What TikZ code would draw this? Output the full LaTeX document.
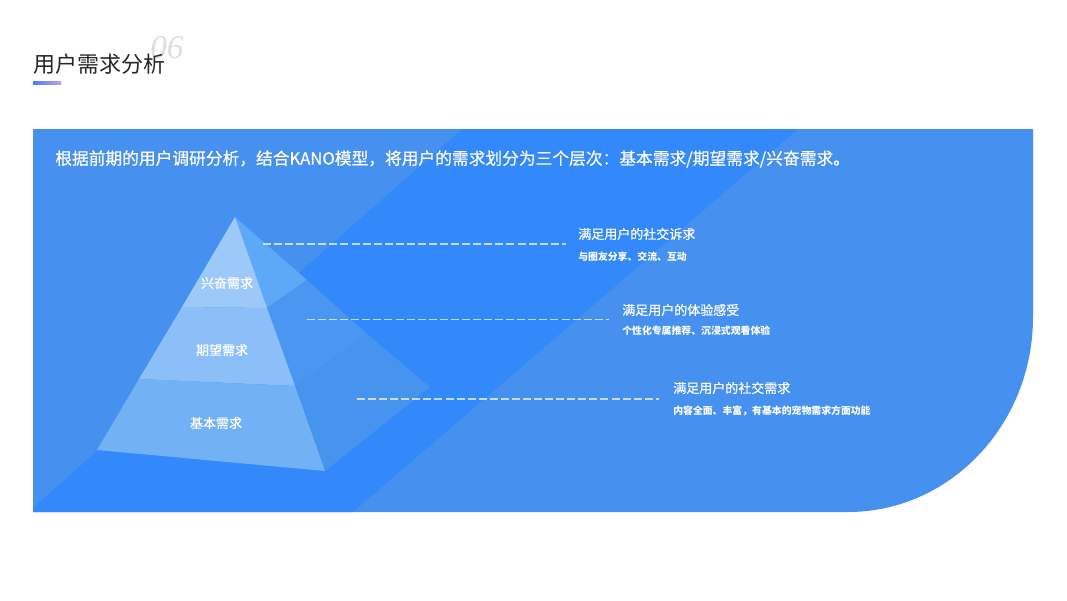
\documentclass[tikz,border=0pt]{standalone}
\usepackage{fontspec}
\setmainfont{Noto Sans CJK SC}
\newfontfamily\cjkf{Noto Sans CJK SC}
\newfontfamily\cjkm[FakeBold=0.4]{Noto Sans CJK SC}
\newfontfamily\numserif{Liberation Serif}
\definecolor{bgL}{RGB}{70,145,239}
\definecolor{bgD}{RGB}{51,137,250}
\definecolor{fTop}{RGB}{157,201,249}
\definecolor{fMid}{RGB}{140,191,247}
\definecolor{fBot}{RGB}{115,177,245}
\definecolor{rTop}{RGB}{93,169,247}
\definecolor{rMid}{RGB}{74,150,240}
\definecolor{rBot}{RGB}{71,148,239}
\definecolor{titleC}{RGB}{38,38,38}
\definecolor{numC}{RGB}{222,222,222}
\definecolor{ulA}{RGB}{72,128,240}
\definecolor{ulB}{RGB}{190,160,240}
\tikzset{
  lbl/.style={inner sep=0pt, text=white, font=\cjkm\fontsize{9.75pt}{11pt}\selectfont},
  rtitle/.style={inner sep=0pt, anchor=west, text=white, font=\cjkm\fontsize{9.75pt}{11pt}\selectfont},
  rsub/.style={inner sep=0pt, anchor=west, text=white, font=\cjkf\bfseries\fontsize{7.4pt}{9pt}\selectfont},
  dline/.style={draw=white, draw opacity=0.7, line width=1.1pt, dash pattern=on 6pt off 2.3pt}
}
\begin{document}
\begin{tikzpicture}[x=0.75pt,y=-0.75pt]
\useasboundingbox (0,0) rectangle (1067,600);
\fill[white] (0,0) rectangle (1067,600);
% panel
\def\panelpath{(33,129) -- (1033,129) -- (1033,317) .. controls (1033,424.6) and (950.1,512) .. (848,512) -- (33,512) -- cycle}
\fill[bgL] \panelpath;
\begin{scope}
  \clip \panelpath;
  \fill[bgD] (28,512) -- (462,129) -- (798,129) -- (353,512) -- cycle;
\end{scope}
% title
\node[inner sep=0pt, anchor=west, text=numC, font=\numserif\itshape\fontsize{25pt}{27pt}\selectfont] (num) at (150,48) {06};
\node[inner sep=0pt, anchor=west, text=titleC, font=\cjkf\fontsize{16.5pt}{18pt}\selectfont] (title) at (33,64) {用户需求分析};
\shade[left color=ulA, right color=ulB] (33,81.5) rectangle (61,84.5);
% header
\node[inner sep=0pt, anchor=west, text=white, font=\cjkm\fontsize{12.55pt}{14pt}\selectfont] (head) at (55,159) {根据前期的用户调研分析，结合KANO模型，将用户的需求划分为三个层次：基本需求/期望需求/兴奋需求。};
% pyramid
\coordinate (A) at (235,217);
\coordinate (L) at (97,450);
\coordinate (F) at (325,471);
\coordinate (B) at (430,387);
\coordinate (P1) at (182,307);
\coordinate (Q1) at (267,308);
\coordinate (P2) at (139,379);
\coordinate (Q2) at (295,386);
\coordinate (R1) at (307,280);
\coordinate (R2) at (367,334);
\fill[rTop] (A) -- (Q1) -- (R1) -- cycle;
\fill[rMid] (Q1) -- (Q2) -- (R2) -- (R1) -- cycle;
\fill[rBot] (Q2) -- (F) -- (B) -- (R2) -- cycle;
\fill[fTop] (A) -- (P1) -- (Q1) -- cycle;
\fill[fMid] (P1) -- (P2) -- (Q2) -- (Q1) -- cycle;
\fill[fBot] (P2) -- (L) -- (F) -- (Q2) -- cycle;
\node[lbl] (l1) at (227,283) {兴奋需求};
\node[lbl] (l2) at (222,350) {期望需求};
\node[lbl] (l3) at (216,423) {基本需求};
% right texts
\node[rtitle] (t1) at (578,234) {满足用户的社交诉求};
\node[rsub] (s1) at (578,256.5) {与圈友分享、交流、互动};
\node[rtitle] (t2) at (622,310) {满足用户的体验感受};
\node[rsub] (s2) at (622,331) {个性化专属推荐、沉浸式观看体验};
\node[rtitle] (t3) at (673,388) {满足用户的社交需求};
\node[rsub] (s3) at (673,411) {内容全面、丰富，有基本的宠物需求方面功能};
% dashed leaders
\coordinate (d1a) at (263,244);
\coordinate (d1b) at (566,244);
\coordinate (d2a) at (307,319.5);
\coordinate (d2b) at (609,319.5);
\coordinate (d3a) at (357,399);
\coordinate (d3b) at (659,399);
\draw[dline] (d1a) -- (d1b);
\draw[dline] (d2a) -- (d2b);
\draw[dline] (d3a) -- (d3b);
\end{tikzpicture}
\end{document}
